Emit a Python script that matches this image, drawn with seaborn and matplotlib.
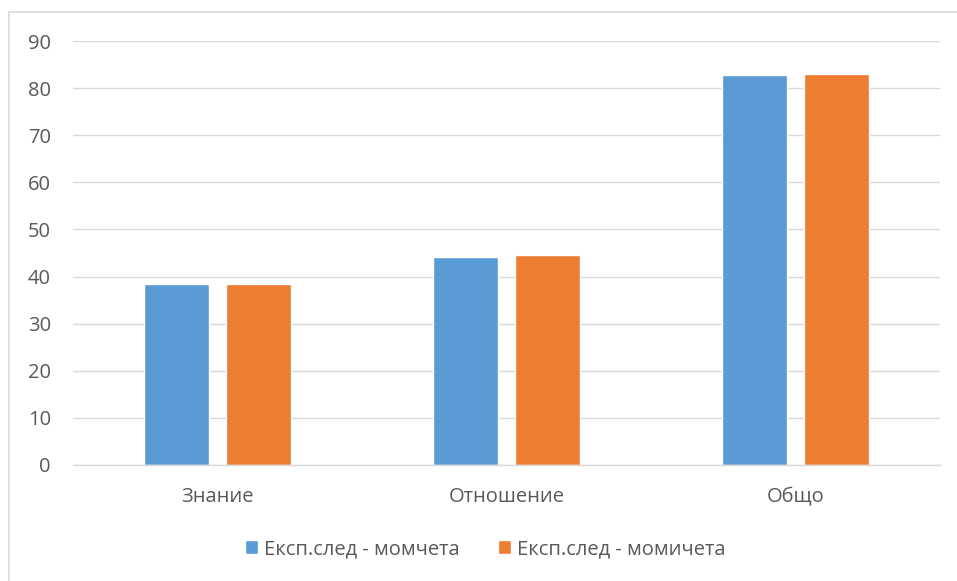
import pandas as pd
import matplotlib.pyplot as plt
import seaborn as sns
from matplotlib.patches import Rectangle

# данни
categories = ['Знание', 'Отношение', 'Общо']
series_names = ['Експ.след - момчета', 'Експ.след - момичета']
boys = [38.5, 44.1, 82.8]
girls = [38.4, 44.5, 82.9]
colors = ['#5B9BD5', '#ED7D31']

df = pd.DataFrame({
    'category': categories * 2,
    'series': [series_names[0]] * 3 + [series_names[1]] * 3,
    'value': boys + girls,
})

sns.set_style('white')
plt.rcParams['font.family'] = ['Open Sans', 'DejaVu Sans']
text_color = '#595959'

fig = plt.figure(figsize=(9.57, 5.81), dpi=100)
ax = fig.add_axes([0.0763, 0.1997, 0.9057, 0.7297])

sns.barplot(data=df, x='category', y='value', hue='series', order=categories,
            hue_order=series_names, palette=colors, width=0.568, gap=0.208,
            saturation=1, ax=ax, legend=True)

ax.set_ylim(0, 90)
ax.set_xlim(-0.5, 2.5)
ax.set_yticks(range(0, 91, 10))
ax.yaxis.grid(True, color='#D9D9D9', linewidth=1)
ax.set_axisbelow(True)
for s in ['top', 'right', 'left']:
    ax.spines[s].set_visible(False)
ax.spines['bottom'].set_color('#D9D9D9')
ax.spines['bottom'].set_linewidth(1)
ax.tick_params(axis='both', length=0, labelsize=14.5, colors=text_color)
ax.tick_params(axis='y', pad=16)
ax.tick_params(axis='x', pad=16)
ax.set_xlabel('')
ax.set_ylabel('')

leg = ax.legend(loc='center', ncol=2, frameon=False, fontsize=14.5,
                handlelength=0.65, handleheight=0.65, handletextpad=0.3,
                columnspacing=1.9)
leg.set_bbox_to_anchor((485 / 957, 1 - 549 / 581), transform=fig.transFigure)
for t in leg.get_texts():
    t.set_color(text_color)

# рамка на диаграмата
fig.patches.append(Rectangle((9 / 957, -0.1), 1.2, 1 - 12 / 581 + 0.1,
                             transform=fig.transFigure, fill=False,
                             edgecolor='#D9D9D9', linewidth=1.2))

plt.savefig('out.png', dpi=100)
